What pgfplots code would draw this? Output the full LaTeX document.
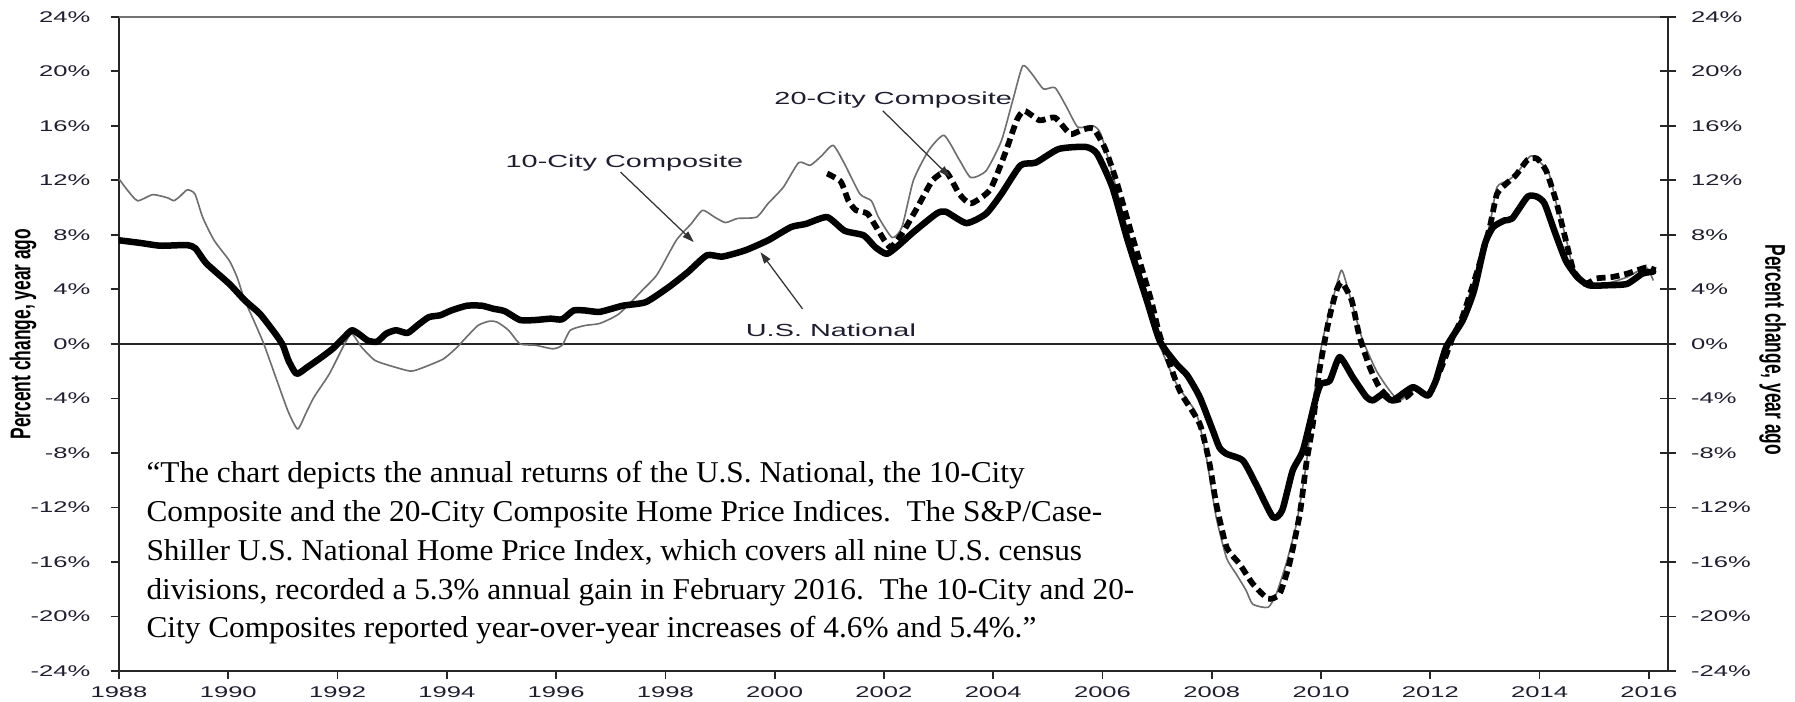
\documentclass[border=0pt]{standalone}
\usepackage{fontspec}
\setmainfont{Liberation Serif}
\newfontfamily\chartfont[FakeStretch=1.65]{Liberation Sans}
\newfontfamily\labelfont[FakeStretch=0.61]{Liberation Sans}
\usepackage{pgfplots}
\pgfplotsset{compat=1.18}
\usetikzlibrary{arrows.meta}
\definecolor{ticktext}{HTML}{1E1E30}
\definecolor{tencity}{HTML}{6E6E6E}

\pgfplotstableread{
x y
1988.00 7.6
1988.40 7.4
1988.76 7.2
1989.25 7.25
1989.40 7.0
1989.60 5.9
1990.02 4.4
1990.30 3.2
1990.58 2.2
1990.86 0.75
1991.00 -0.1
1991.10 -1.2
1991.25 -2.2
1991.45 -1.7
1991.70 -1.0
1991.91 -0.36
1992.10 0.4
1992.26 1.0
1992.40 0.7
1992.55 0.25
1992.72 0.15
1992.89 0.75
1993.07 1.0
1993.28 0.8
1993.46 1.35
1993.67 1.96
1993.88 2.1
1994.08 2.45
1994.37 2.8
1994.64 2.8
1994.85 2.58
1995.06 2.4
1995.34 1.75
1995.62 1.75
1995.90 1.85
1996.11 1.8
1996.32 2.45
1996.53 2.45
1996.80 2.35
1997.22 2.8
1997.64 3.06
1998.06 4.16
1998.41 5.26
1998.76 6.5
1999.04 6.4
1999.46 6.86
1999.88 7.6
2000.30 8.57
2000.57 8.8
2000.96 9.3
2001.28 8.3
2001.63 7.96
2001.84 7.1
2002.05 6.6
2002.26 7.2
2002.54 8.2
2002.96 9.55
2003.13 9.7
2003.51 8.86
2003.87 9.55
2004.15 11.0
2004.50 13.1
2004.78 13.3
2005.20 14.3
2005.69 14.45
2005.90 13.95
2006.18 11.5
2006.46 7.6
2006.81 3.2
2007.05 0.2
2007.35 -1.46
2007.55 -2.3
2007.78 -3.9
2008.02 -6.36
2008.14 -7.6
2008.27 -8.07
2008.57 -8.56
2008.81 -10.3
2009.12 -12.72
2009.29 -12.2
2009.48 -9.3
2009.67 -7.8
2009.91 -3.9
2010.00 -2.93
2010.16 -2.7
2010.34 -0.97
2010.58 -2.44
2010.83 -3.9
2010.95 -4.15
2011.13 -3.7
2011.31 -4.15
2011.68 -3.18
2011.95 -3.79
2012.10 -2.7
2012.29 -0.24
2012.59 1.7
2012.80 3.9
2013.00 7.35
2013.15 8.57
2013.36 9.06
2013.50 9.2
2013.78 10.8
2013.95 10.8
2014.09 10.3
2014.27 8.3
2014.48 6.1
2014.69 4.9
2014.90 4.3
2015.24 4.3
2015.60 4.4
2015.88 5.15
2016.08 5.3
}\national

\pgfplotstableread{
x y
1988.00 12.1
1988.15 11.3
1988.34 10.5
1988.62 10.95
1988.90 10.7
1989.00 10.5
1989.11 10.8
1989.25 11.3
1989.39 11.0
1989.53 9.3
1989.74 7.6
1990.02 6.1
1990.16 4.9
1990.30 3.2
1990.44 1.96
1990.65 0.0
1990.90 -2.8
1991.10 -5.0
1991.27 -6.25
1991.42 -5.1
1991.57 -3.9
1991.85 -2.2
1992.13 0.0
1992.26 0.75
1992.44 -0.24
1992.68 -1.2
1992.96 -1.6
1993.34 -2.0
1993.59 -1.7
1993.94 -1.1
1994.19 -0.24
1994.33 0.37
1994.57 1.35
1994.78 1.67
1994.92 1.6
1995.13 1.0
1995.34 0.0
1995.62 -0.1
1995.94 -0.36
1996.11 -0.1
1996.26 1.0
1996.53 1.35
1996.80 1.5
1997.15 2.2
1997.57 3.9
1997.85 5.1
1998.20 7.6
1998.47 8.8
1998.68 9.8
1998.90 9.3
1999.10 8.9
1999.32 9.2
1999.67 9.3
1999.88 10.3
2000.16 11.5
2000.44 13.3
2000.65 13.1
2000.86 13.8
2001.07 14.57
2001.28 13.2
2001.56 11.0
2001.77 10.5
2001.90 9.3
2002.15 7.8
2002.33 8.57
2002.54 12.0
2002.82 14.2
2003.10 15.3
2003.38 13.5
2003.59 12.2
2003.87 12.7
2004.15 14.9
2004.36 17.9
2004.54 20.4
2004.71 19.8
2004.92 18.7
2005.13 18.8
2005.34 17.4
2005.55 15.9
2005.83 16.0
2005.97 15.4
2006.18 12.5
2006.46 8.3
2006.81 3.68
2007.00 0.4
2007.35 -2.9
2007.72 -5.13
2007.90 -8.3
2008.08 -12.7
2008.27 -15.7
2008.45 -16.9
2008.63 -18.1
2008.75 -19.1
2009.03 -19.33
2009.18 -18.35
2009.36 -16.15
2009.55 -13.2
2009.73 -8.8
2009.91 -2.7
2010.03 0.3
2010.21 3.2
2010.37 5.4
2010.48 4.2
2010.62 2.2
2010.76 0.3
2011.01 -1.95
2011.25 -3.4
2011.44 -4.15
2011.74 -3.3
2011.97 -3.9
2012.23 -1.5
2012.41 0.5
2012.59 2.0
2012.88 5.8
2013.09 8.8
2013.22 11.5
2013.43 12.0
2013.60 12.6
2013.85 13.8
2014.16 12.6
2014.30 10.4
2014.48 7.8
2014.62 5.5
2014.90 4.2
2015.30 4.5
2015.60 4.9
2015.95 5.6
2016.08 4.65
}\tencity

\pgfplotstableread{
x y
2000.96 12.5
2001.21 11.9
2001.35 10.5
2001.49 9.8
2001.70 9.55
2001.90 8.3
2002.11 7.1
2002.33 8.08
2002.61 10.0
2002.89 12.0
2003.14 12.6
2003.38 11.0
2003.59 10.3
2003.94 11.3
2004.22 14.0
2004.43 16.4
2004.57 17.1
2004.85 16.4
2005.13 16.6
2005.41 15.4
2005.62 15.7
2005.83 15.8
2006.04 14.4
2006.25 12.0
2006.53 8.1
2006.89 3.2
2007.05 0.6
2007.41 -3.4
2007.78 -5.87
2007.96 -8.8
2008.08 -11.7
2008.27 -14.9
2008.51 -16.15
2008.75 -17.6
2009.03 -18.7
2009.24 -18.35
2009.42 -16.15
2009.61 -12.5
2009.73 -8.8
2009.85 -5.87
2009.97 -1.95
2010.14 1.7
2010.28 3.9
2010.38 4.5
2010.56 3.2
2010.70 0.6
2010.89 -1.7
2011.07 -3.2
2011.31 -4.15
2011.56 -3.9
2011.74 -3.3
2011.97 -3.8
2012.23 -1.46
2012.41 0.5
2012.59 2.0
2012.88 5.6
2013.09 8.6
2013.22 11.0
2013.43 11.9
2013.57 12.4
2013.78 13.5
2013.95 13.6
2014.12 12.7
2014.30 10.5
2014.48 7.6
2014.62 5.4
2014.83 4.4
2015.04 4.8
2015.32 4.9
2015.60 5.15
2015.95 5.6
2016.12 5.4
}\twentycity

\begin{document}
\begin{tikzpicture}
\useasboundingbox (-47.6pt,-12.4pt) rectangle (670.4pt,268.4pt);

\pgfplotsset{
  chart/.style={
    scale only axis, width=619.6pt, height=261.7pt,
    xmin=1988, xmax=2016.35, ymin=-24, ymax=24,
    ytick={-24,-20,...,24},
    yticklabels={-24\%,-20\%,-16\%,-12\%,-8\%,-4\%,0\%,4\%,8\%,12\%,16\%,20\%,24\%},
    axis line style={-, line width=0.8pt, black!85},
    tick style={line width=0.7pt, black!85},
    ticklabel style={font=\chartfont\fontsize{6.2}{7}\selectfont, text=ticktext},
    ylabel={Percent change, year ago},
  },
}

\begin{axis}[chart,
  axis x line*=bottom, axis y line*=left,
  xtick={1988,1990,...,2016},
  xticklabels={1988,1990,1992,1994,1996,1998,2000,2002,2004,2006,2008,2010,2012,2014,2016},
  tick align=outside, major tick length=3.4pt,
  yticklabel style={xshift=-4.5pt},
  xticklabel style={yshift=0.5pt},
  ylabel style={font=\labelfont\bfseries\fontsize{11.4}{12}\selectfont,
    at={(axis description cs:-0.062,0.515)}, anchor=center},
]
\draw[black!55, line width=0.6pt] (rel axis cs:0,1) -- (rel axis cs:1,1);
\draw[black!85, line width=0.7pt] (axis cs:1988,0) -- (axis cs:2016.35,0);

\addplot[tencity, line width=0.65pt, line join=round, smooth, tension=0.35] table {\tencity};
\addplot[black, line width=2.3pt, dash pattern=on 3.6pt off 2pt, line join=round, smooth, tension=0.35] table {\twentycity};
\addplot[black, line width=2.6pt, line join=round, line cap=round, smooth, tension=0.35] table {\national};

\begin{scope}[font=\chartfont\fontsize{7.0}{8}\selectfont, text=ticktext]
\node at (axis cs:1997.25,13.3) {10-City Composite};
\node at (axis cs:2002.17,17.9) {20-City Composite};
\node at (axis cs:2001.03,0.98) {U.S. National};
\end{scope}
\begin{scope}[black!80, line width=0.5pt, -{Triangle[length=4.6pt,width=3pt]}]
\draw (axis cs:1997.18,12.6) -- (axis cs:1998.52,7.47);
\draw (axis cs:2000.51,2.57) -- (axis cs:1999.74,6.73);
\draw (axis cs:2001.98,17.1) -- (axis cs:2003.21,12.24);
\end{scope}
\end{axis}

\begin{axis}[chart,
  axis x line=none, axis y line*=right, xtick=\empty,
  tick align=center, major tick length=6.4pt,
  yticklabel style={xshift=2.5pt},
  ylabel style={font=\labelfont\bfseries\fontsize{11.4}{12}\selectfont,
    at={(axis description cs:1.0675,0.491)}, anchor=center, rotate=180},
]
\end{axis}

\node[anchor=north west, inner sep=0pt, align=left, xscale=1.035,
  font=\fontsize{12.1}{15.5}\selectfont] at (10.8pt,84pt)
  {“The chart depicts the annual returns of the U.S. National, the 10-City\\
   Composite and the 20-City Composite Home Price Indices.\ \ The S\&P/Case-\\
   Shiller U.S. National Home Price Index, which covers all nine U.S. census\\
   divisions, recorded a 5.3\% annual gain in February 2016.\ \ The 10-City and 20-\\
   City Composites reported year-over-year increases of 4.6\% and 5.4\%.”};
\end{tikzpicture}
\end{document}
